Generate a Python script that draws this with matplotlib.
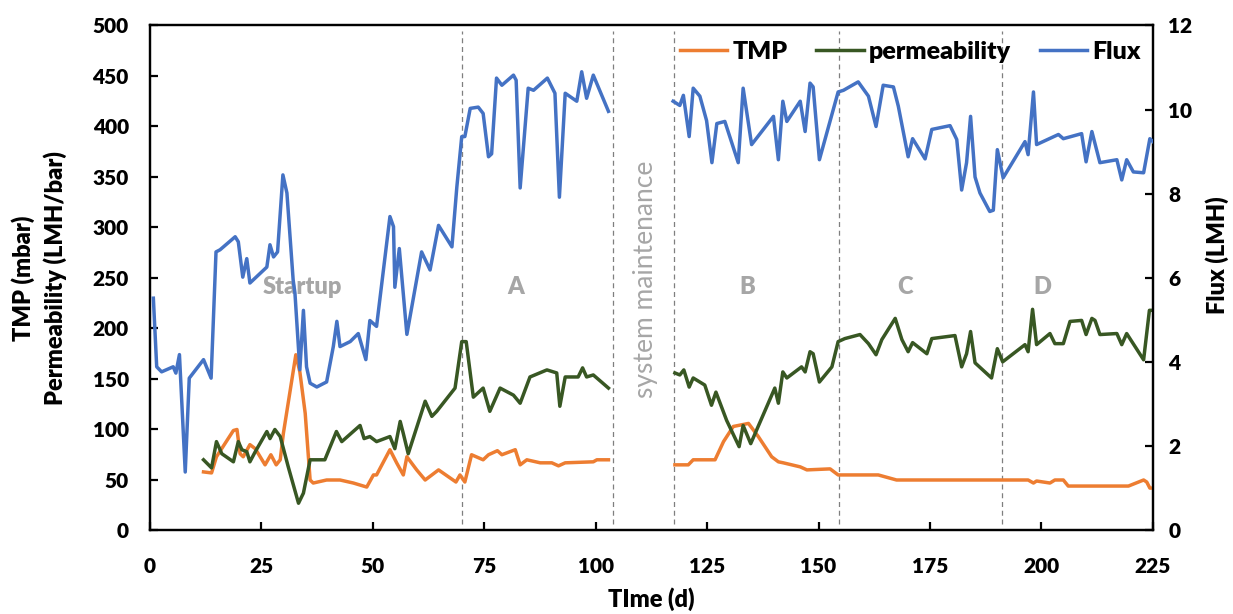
import numpy as np
import matplotlib
matplotlib.use("Agg")
import matplotlib.pyplot as plt

plt.rcParams['font.family'] = ['Lato', 'DejaVu Sans']

nan = np.nan

# ---------------- data ----------------
flux_t = [0.85, 1.6, 2.7, 5.3, 5.9, 6.7, 8.0, 8.9, 12.1, 13.8, 14.9, 15.8, 19.2, 19.9, 20.9, 21.8,
          22.5, 26.3, 27.0, 27.8, 28.7, 29.9, 30.8, 32.2, 32.6, 33.7, 34.5, 35.2, 36.0, 37.5, 39.7,
          41.2, 42.0, 42.7, 45.0, 46.8, 48.5, 49.4, 50.9, 53.9, 54.7, 55.0, 56.0, 57.7, 61.0, 62.9,
          64.8, 67.8, 68.9, 70.0, 70.7, 71.9, 73.7, 74.8, 76.0, 76.7, 77.8, 79.0, 81.6, 82.2, 83.1,
          84.9, 86.1, 89.2, 90.9, 91.9, 93.2, 95.8, 96.9, 98.0, 99.5, 100.6, 102.9,
          110.0,
          117.4, 118.9, 119.7, 121.0, 121.9, 123.4, 124.9, 126.1, 127.2, 129.0, 132.0, 133.1, 135.0,
          139.9, 141.0, 142.0, 142.9, 145.9, 147.0, 148.1, 148.8, 150.2, 154.4, 155.6, 158.9, 161.2,
          162.9, 164.5, 166.8, 167.9, 170.1, 171.1, 173.9, 175.4, 179.5, 181.0, 182.1, 183.2, 184.1,
          185.1, 186.2, 188.4, 189.2, 190.1, 191.4, 196.3, 197.0, 198.2, 198.9, 203.8, 204.9, 209.0,
          210.0, 211.3, 213.1, 216.9, 218.0, 219.1, 220.6, 222.9, 224.3, 225.0]
flux_v = [5.52, 3.89, 3.77, 3.89, 3.74, 4.18, 1.39, 3.62, 4.06, 3.62, 6.62, 6.67, 6.98, 6.86, 6.02, 6.46,
          5.88, 6.26, 6.79, 6.50, 6.62, 8.45, 8.02, 5.95, 5.64, 3.82, 5.23, 3.89, 3.50, 3.41, 3.53,
          4.37, 4.97, 4.37, 4.49, 4.68, 4.06, 4.99, 4.85, 7.46, 7.22, 5.78, 6.70, 4.66, 6.62, 6.19,
          7.25, 6.74, 8.16, 9.36, 9.36, 10.03, 10.06, 9.91, 8.88, 8.95, 10.75, 10.58, 10.82, 10.70, 8.14,
          10.51, 10.46, 10.75, 10.39, 7.92, 10.39, 10.20, 10.90, 10.27, 10.82, 10.54, 9.96,
          nan,
          10.20, 10.10, 10.34, 9.36, 10.51, 10.32, 9.74, 8.74, 9.67, 9.72, 8.74, 10.51, 9.17,
          9.84, 8.81, 10.20, 9.72, 10.20, 9.48, 10.63, 10.54, 8.81, 10.42, 10.46, 10.66, 10.32,
          9.60, 10.58, 10.54, 10.08, 8.88, 9.31, 8.83, 9.53, 9.62, 9.29, 8.09, 8.74, 9.84,
          8.40, 8.02, 7.58, 7.61, 9.05, 8.38, 9.24, 8.93, 10.42, 9.17, 9.41, 9.31, 9.43,
          8.76, 9.48, 8.74, 8.81, 8.33, 8.81, 8.52, 8.50, 9.31, 9.24]

perm_t = [12.1, 13.9, 15.0, 16.2, 18.8, 19.9, 20.7, 21.8, 22.5, 23.7, 26.3, 27.0, 28.1, 29.3, 31.1,
          33.4, 34.5, 36.0, 39.3, 41.9, 43.1, 47.2, 48.1, 49.4, 50.9, 53.9, 55.0, 56.2, 56.9, 58.0,
          61.8, 63.3, 64.4, 68.5, 70.0, 71.0, 72.6, 74.8, 76.3, 78.6, 81.6, 83.1, 85.3, 89.1, 91.3,
          92.0, 93.2, 96.1, 97.1, 98.0, 99.5, 102.9,
          110.0,
          117.8, 118.9, 119.8, 121.0, 121.9, 124.5, 126.0, 127.0, 129.4, 132.2, 133.1, 134.8, 140.2,
          141.0, 142.0, 142.9, 146.2, 147.0, 148.1, 148.8, 150.2, 153.0, 154.4, 155.9, 159.3, 161.2,
          162.9, 164.2, 167.2, 168.7, 170.1, 171.1, 174.3, 175.4, 180.6, 182.1, 183.2, 184.1, 185.1,
          188.8, 190.1, 191.3, 196.3, 197.0, 198.0, 198.9, 201.9, 203.0, 204.9, 206.4, 209.0, 210.0,
          211.3, 212.0, 213.1, 216.9, 218.0, 219.1, 222.9, 224.2, 225.0]
perm_v = [70, 62, 88, 76, 68, 88, 80, 78, 68, 78, 98, 91, 100, 93, 63,
          27, 37, 70, 70, 98, 88, 104, 91, 93, 88, 93, 81, 108, 96, 76,
          128, 113, 118, 141, 187, 187, 132, 141, 118, 141, 134, 126, 152, 159, 156,
          123, 152, 152, 161, 152, 154, 141,
          nan,
          156, 154, 159, 142, 151, 144, 124, 137, 109, 83, 104, 86, 141,
          126, 157, 151, 162, 157, 177, 175, 147, 162, 187, 190, 194, 185,
          174, 189, 210, 189, 177, 186, 175, 190, 193, 162, 175, 197, 166,
          151, 180, 167, 184, 177, 219, 184, 195, 185, 185, 207, 208, 194,
          210, 208, 194, 195, 184, 195, 169, 218, 218]

tmp_t = [12.1, 13.9, 15.0, 18.8, 19.6, 20.3, 21.0, 22.5, 23.7, 25.9, 27.2, 28.4, 29.3, 30.0, 32.8,
         33.7, 34.9, 36.0, 36.7, 39.7, 42.7, 45.7, 48.7, 50.2, 50.9, 53.9, 55.4, 56.9, 57.7, 59.9,
         61.8, 63.3, 64.8, 67.4, 68.7, 69.6, 70.7, 72.2, 74.8, 76.0, 78.0, 79.0, 82.0, 83.1, 84.6,
         87.6, 90.2, 91.7, 93.2, 99.5, 100.3, 102.9,
         110.0,
         117.8, 120.8, 121.9, 126.8, 128.7, 130.9, 134.3, 136.5, 139.5, 141.0, 142.1, 145.9, 147.4,
         152.6, 154.4, 163.4, 167.5, 197.0, 198.2, 198.9, 201.9, 203.0, 204.9, 206.0, 219.5, 222.9,
         223.6, 224.3, 225.0]
tmp_v = [58, 57, 73, 99, 100, 76, 73, 85, 81, 65, 75, 65, 70, 96, 174,
         157, 116, 50, 47, 50, 50, 47, 43, 55, 55, 80, 67, 55, 73, 60,
         50, 55, 60, 52, 48, 55, 48, 75, 70, 75, 79, 75, 80, 65, 70,
         67, 67, 64, 67, 68, 70, 70,
         nan,
         65, 65, 70, 70, 88, 103, 106, 93, 73, 68, 67, 63, 60,
         61, 55, 55, 50, 50, 47, 49, 47, 50, 50, 44, 44, 50,
         48, 42, 42]

phase_lines = [70, 104, 117.5, 154.7, 191.2]
phase_labels = ["Startup", "A", "B", "C", "D"]
phase_label_x = [34.2, 82.2, 134.0, 169.4, 200.3]
maint_label = "system maintenance"

x_ticks = list(range(0, 226, 25))
left_ticks = list(range(0, 501, 50))
right_ticks = list(range(0, 13, 2))

# ---------------- styles ----------------
c_tmp = '#ED7D31'
c_perm = '#385723'
c_flux = '#4472C4'
lw = 2.5
W = 'heavy'

fig = plt.figure(figsize=(12.33, 6.14), dpi=100)
ax = fig.add_axes([0.1213, 0.136, 0.8138, 0.8225])
ax2 = ax.twinx()

l1, = ax.plot(tmp_t, tmp_v, color=c_tmp, lw=lw, solid_joinstyle='round', label='TMP', zorder=3)
l2, = ax.plot(perm_t, perm_v, color=c_perm, lw=lw, solid_joinstyle='round', label='permeability', zorder=3)
l3, = ax2.plot(flux_t, flux_v, color=c_flux, lw=lw, solid_joinstyle='round', label='Flux', zorder=3)

for xl in phase_lines:
    ax.axvline(xl, ymin=0.012, ymax=0.99, color='#7F7F7F', lw=0.9, ls=(0, (4, 3)), zorder=1)

for lab, xp in zip(phase_labels, phase_label_x):
    ax.text(xp, 241, lab, color='#A6A6A6', fontsize=17, fontweight=W, ha='center', va='center')
ax.text(111.3, 249, maint_label, color='#A6A6A6', fontsize=19, rotation=90, ha='center', va='center')

ax.set_xlim(0, 225)
ax.set_ylim(0, 500)
ax2.set_ylim(0, 12)
ax.set_xticks(x_ticks)
ax.set_yticks(left_ticks)
ax2.set_yticks(right_ticks)

for a in (ax, ax2):
    for s in a.spines.values():
        s.set_linewidth(1.6)
    a.tick_params(direction='in', length=6, width=1.6, labelsize=15)
ax.tick_params(axis='x', pad=19)
ax.tick_params(axis='y', pad=15)
ax2.tick_params(axis='y', pad=11)
for lbl in ax.get_xticklabels() + ax.get_yticklabels() + ax2.get_yticklabels():
    lbl.set_fontweight(W)

ax.set_xlabel('TIme (d)', fontsize=17, fontweight=W, labelpad=8)
ax.set_ylabel('TMP (mbar)\nPermeability (LMH/bar)', fontsize=17, fontweight=W, linespacing=1.45)
ax.yaxis.set_label_coords(-0.082, 0.5)
ax2.set_ylabel('Flux (LMH)', fontsize=17, fontweight=W)
ax2.yaxis.set_label_coords(1.052, 0.545)

leg = ax.legend(handles=[l1, l2, l3], loc='center right', bbox_to_anchor=(1.01, 0.947), ncol=3,
                frameon=False, fontsize=18, handlelength=1.9, handletextpad=0.2, columnspacing=1.15)
for t in leg.get_texts():
    t.set_fontweight(W)

fig.savefig('out.png', dpi=100)
